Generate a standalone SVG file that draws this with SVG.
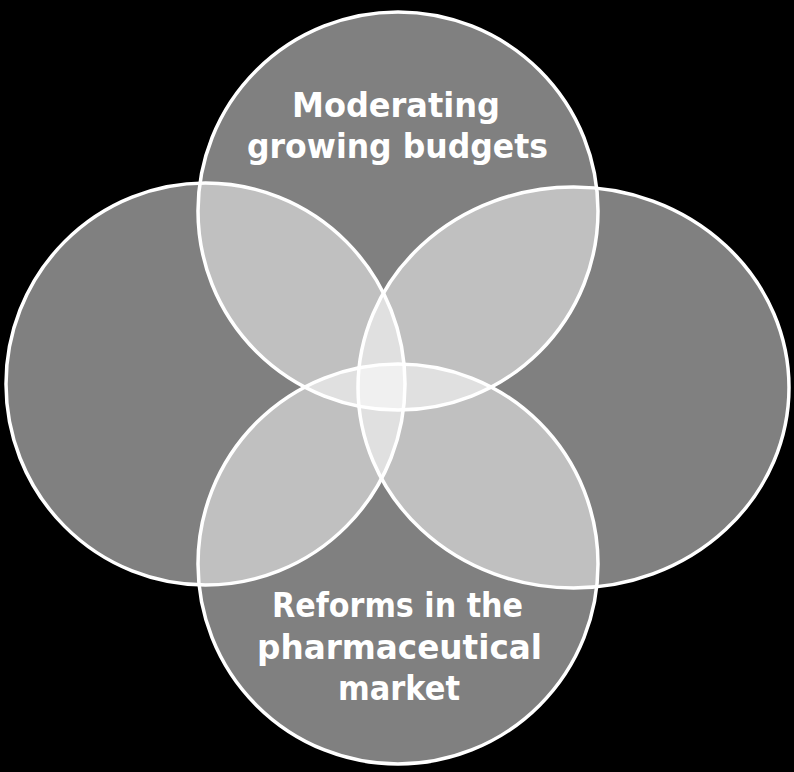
<svg xmlns="http://www.w3.org/2000/svg" width="794" height="772" viewBox="0 0 794 772">
<style>
.c{fill:#ffffff;fill-opacity:0.5;stroke:#ffffff;stroke-width:3.5}
.t{fill:#ffffff;font-family:"DejaVu Sans","Liberation Sans",sans-serif;font-weight:bold;font-size:34px;text-anchor:middle}
</style>
<rect width="794" height="772" fill="#000000"/>
<g id="top"><ellipse class="c" cx="398" cy="211" rx="200" ry="199"/></g>
<g id="left"><ellipse class="c" cx="205.5" cy="384" rx="199.5" ry="201"/></g>
<g id="right"><ellipse class="c" cx="573.5" cy="387.5" rx="215.5" ry="200.5"/></g>
<g id="bottom"><ellipse class="c" cx="398" cy="564" rx="200" ry="200"/></g>
<g id="labels">
<text class="t" x="396" y="117" textLength="208" lengthAdjust="spacingAndGlyphs">Moderating</text>
<text class="t" x="397.5" y="158" textLength="301" lengthAdjust="spacingAndGlyphs">growing budgets</text>
<text class="t" x="397.5" y="617" textLength="251" lengthAdjust="spacingAndGlyphs">Reforms in the</text>
<text class="t" x="399.5" y="659" textLength="285" lengthAdjust="spacingAndGlyphs">pharmaceutical</text>
<text class="t" x="399" y="700" textLength="122" lengthAdjust="spacingAndGlyphs">market</text>
</g>
<g id="connectors"/>
</svg>
